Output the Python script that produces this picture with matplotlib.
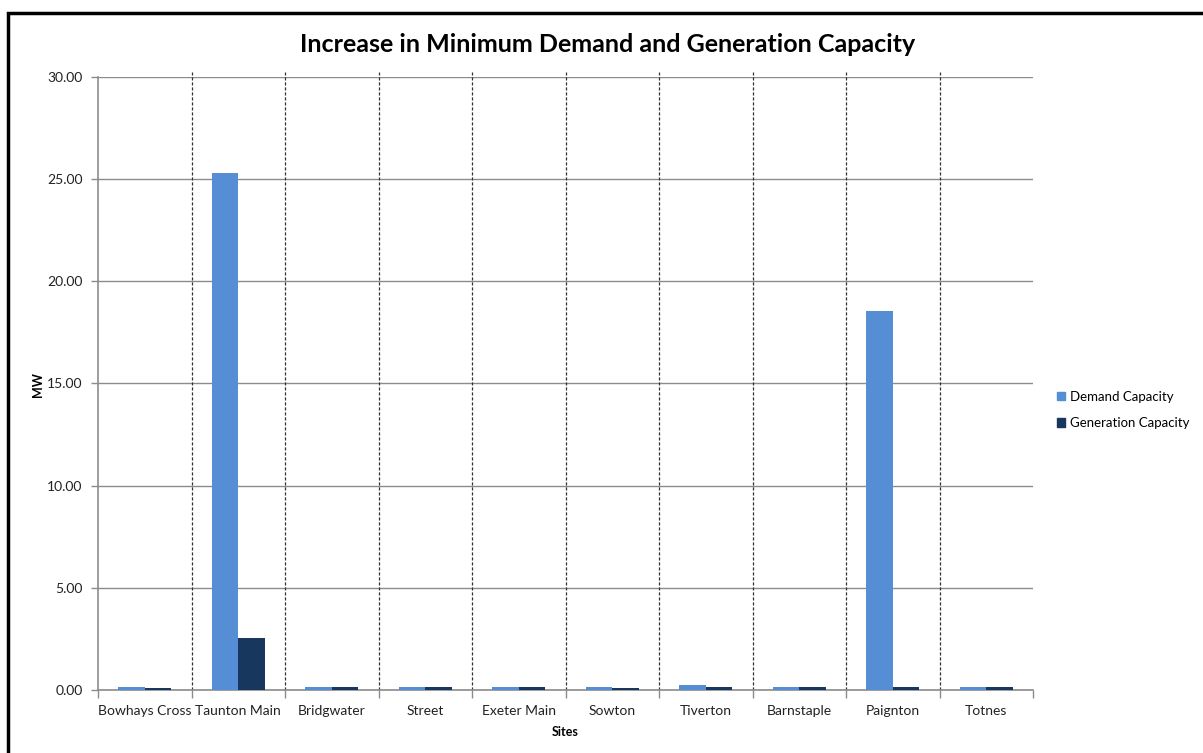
import matplotlib
matplotlib.use("Agg")
import matplotlib.pyplot as plt
from matplotlib.patches import Rectangle, Patch
import numpy as np

sites = ["Bowhays Cross", "Taunton Main", "Bridgwater", "Street", "Exeter Main",
         "Sowton", "Tiverton", "Barnstaple", "Paignton", "Totnes"]
demand_capacity = [0.16, 25.28, 0.15, 0.15, 0.15, 0.15, 0.24, 0.15, 18.53, 0.15]
generation_capacity = [0.11, 2.54, 0.15, 0.15, 0.15, 0.10, 0.15, 0.15, 0.15, 0.15]
y_ticks = [0, 5, 10, 15, 20, 25, 30]

DEMAND_COLOR = "#558ED5"
GEN_COLOR = "#17375E"
GRID_COLOR = "#8C8C8C"

plt.rcParams["font.family"] = ["Lato", "DejaVu Sans"]

fig = plt.figure(figsize=(12.03, 7.53), dpi=100)
ax = fig.add_axes([98 / 1203, 1 - 690 / 753, (1033 - 98) / 1203, (690 - 77) / 753])

x = np.arange(len(sites))
w = 0.283
ax.bar(x - w / 2, demand_capacity, width=w, color=DEMAND_COLOR, zorder=3,
       label="Demand Capacity")
ax.bar(x + w / 2, generation_capacity, width=w, color=GEN_COLOR, zorder=3,
       label="Generation Capacity")

ax.set_xlim(-0.5, len(sites) - 0.5)
ax.set_ylim(0, 30)
ax.set_yticks(y_ticks)
ax.set_yticklabels([f"{v:.2f}" for v in y_ticks], fontsize=10, color="#222222")
ax.yaxis.grid(True, color=GRID_COLOR, linewidth=1.0, zorder=0)

# category labels at centers, tick marks at category boundaries
ax.set_xticks(x)
ax.set_xticklabels(sites, fontsize=10, color="#222222")
ax.tick_params(axis="x", length=0, pad=11)
ax.set_xticks(np.arange(-0.5, len(sites)), minor=True)
ax.tick_params(axis="x", which="minor", length=6, color=GRID_COLOR, width=1)
ax.tick_params(axis="y", length=5, color=GRID_COLOR, width=1, pad=6)

# dashed separators between sites
for b in np.arange(0.5, len(sites) - 0.5):
    ax.plot([b, b], [0, 1.008], transform=ax.get_xaxis_transform(), color="#333333",
            linestyle=(0, (2.5, 1.5)), linewidth=0.9, clip_on=False, zorder=2)

for s in ["top", "right"]:
    ax.spines[s].set_visible(False)
for s in ["left", "bottom"]:
    ax.spines[s].set_color(GRID_COLOR)
    ax.spines[s].set_linewidth(1.2)

ax.set_xlabel("Sites", fontsize=9, fontweight="bold", labelpad=6)
fig.text(38 / 1203, 1 - 385 / 753, "MW", rotation=90, fontsize=9, fontweight="bold",
         ha="center", va="center")

fig.text(608 / 1203, 1 - 44 / 753, "Increase in Minimum Demand and Generation Capacity",
         fontsize=18, fontweight="bold", ha="center", va="center")

handles = [Patch(color=DEMAND_COLOR), Patch(color=GEN_COLOR)]
fig.legend(handles, ["Demand Capacity", "Generation Capacity"],
           loc="center left", bbox_to_anchor=(1045 / 1203, 1 - 410 / 753),
           frameon=False, fontsize=9.5, handlelength=0.6, handleheight=0.6,
           handletextpad=0.4, labelspacing=1.1)

# chart frame
fig.patches.append(Rectangle((8 / 1203, -0.1), 1.2, 1 - 13 / 753 + 0.1,
                             transform=fig.transFigure, fill=False,
                             edgecolor="black", linewidth=2.5, zorder=10))

fig.savefig("out.png", dpi=100)
